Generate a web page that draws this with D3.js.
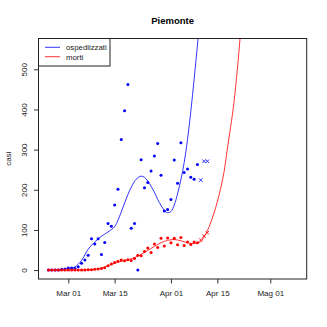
<!DOCTYPE html>
<meta charset="utf-8">
<style>
body {
  margin: 0;
  background: white;
}
svg {
  font-family: "Liberation Sans", Arial, sans-serif;
}
.tick line {
  stroke: #333;
}
</style>
<body>
<svg width="327" height="327"></svg>
<script src="https://d3js.org/d3.v7.min.js"></script>
<script>

// dati giornalieri a partire dal 24 febbraio 2020
var inizio = new Date(2020, 1, 24);

var ospedalizzati = [0, 0, 0, 0, 2, 3, 5, 5, 4, 8, 17, 25, 37, 78, 65, 78, 39, 69, 116, 109,
  162, 201, 325, 397, 462, 104, 116, 0, 275, 205, 218, 247, 284, 315, 236, 147, 151, 176, 274, 216,
  317, 243, 252, 231, 226, 263];
var ospedalizzatiEsclusi = [224, 271, 271];

var morti = [0, 0, 0, 0, 0, 0, 0, 0, 0, 0, 0, 0, 1, 1, 2, 3, 4, 6, 11, 15,
  19, 22, 25, 23, 26, 24, 29, 37, 36, 46, 55, 44, 65, 56, 79, 60, 80, 68, 79, 63,
  81, 61, 70, 64, 70, 68];
var mortiEsclusi = [75, 85, 93];

// curve del modello
var giorniCurvaOsp = [0, 2, 4, 6, 8, 10, 12, 14, 16, 18, 20, 21, 22, 23, 24, 25, 26, 27, 28, 29,
  30, 31, 32, 33, 34, 35, 36, 37, 38, 39, 40, 41, 42, 43, 44, 45, 46];
var curvaOsp = [0, 0, 1, 4, 8, 24, 52, 70, 84, 95, 108, 124, 145, 167, 188, 206, 221, 230, 234, 231,
  222, 209, 194, 176, 161, 149, 143, 146, 162, 190, 225, 268, 325, 395, 475, 560, 650];

var giorniCurvaMorti = [0, 4, 8, 12, 14, 16, 18, 20, 22, 24, 26, 28, 30, 32, 34, 36, 38, 40, 42, 44,
  45, 46, 47, 48, 49, 50, 51, 52, 53, 54, 55, 56, 57, 58, 59];
var curvaMorti = [0, 0, 0, 1, 2, 5, 11, 17, 22, 26, 31, 39, 49, 59, 68, 74, 76, 73, 68, 66,
  67, 71, 82, 98, 118, 142, 170, 203, 243, 300, 355, 415, 495, 590, 690];

var tickDate = [new Date(2020, 2, 1), new Date(2020, 2, 15), new Date(2020, 3, 1), new Date(2020, 3, 15), new Date(2020, 4, 1)];
var tickEtichette = ["Mar 01", "Mar 15", "Apr 01", "Apr 15", "Mag 01"];
var tickY = [0, 100, 200, 300, 400, 500];

var serie = ["ospedlizzati", "morti"];
var colori = ["blue", "red"];

function giorno(d) { return d3.timeDay.offset(inizio, d); }

var svg = d3.select("svg"),
    pLeft = 38.5, pRight = 306.7, pTop = 38.5, pBottom = 279;

var x = d3.scaleTime()
    .domain([new Date(2020, 1, 21), new Date(2020, 4, 12)])
    .range([pLeft, pRight]);
var y = d3.scaleLinear()
    .domain([-22.2, 576.7])
    .range([pBottom, pTop]);

svg.append("clipPath")
    .attr("id", "area")
  .append("rect")
    .attr("x", pLeft).attr("y", pTop)
    .attr("width", pRight - pLeft).attr("height", pBottom - pTop);

// assi
var ax = svg.append("g")
    .attr("transform", "translate(0," + pBottom + ")")
    .call(d3.axisBottom(x).tickValues(tickDate).tickSize(4.5)
      .tickFormat(function(d, i) { return tickEtichette[i]; }));
ax.select(".domain").remove();
ax.selectAll("text")
    .attr("y", 11)
    .attr("fill", "#222")
    .style("font-size", "8px");

var ay = svg.append("g")
    .attr("transform", "translate(" + pLeft + ",0)")
    .call(d3.axisLeft(y).tickValues(tickY).tickSize(4.5));
ay.select(".domain").remove();
ay.selectAll("text")
    .attr("transform", "rotate(-90)")
    .attr("x", 0)
    .attr("y", -11.5)
    .attr("dy", 0)
    .attr("text-anchor", "middle")
    .attr("fill", "#222")
    .style("font-size", "8px");

svg.append("text")
    .attr("transform", "translate(10.5," + (pTop + pBottom) / 2 + ") rotate(-90)")
    .attr("text-anchor", "middle")
    .style("font-size", "8px")
    .attr("fill", "#222")
    .text("casi");

svg.append("text")
    .attr("x", (pLeft + pRight) / 2)
    .attr("y", 23.5)
    .attr("text-anchor", "middle")
    .style("font-size", "9.5px")
    .style("font-weight", "bold")
    .text("Piemonte");

var plot = svg.append("g").attr("clip-path", "url(#area)");

var linea = d3.line()
    .x(function(d) { return x(giorno(d[0])); })
    .y(function(d) { return y(d[1]); })
    .curve(d3.curveCatmullRom);

plot.append("path")
    .datum(giorniCurvaOsp.map(function(g, i) { return [g, curvaOsp[i]]; }))
    .attr("d", linea)
    .attr("fill", "none")
    .attr("stroke", "blue")
    .attr("stroke-width", 0.8);

plot.append("path")
    .datum(giorniCurvaMorti.map(function(g, i) { return [g, curvaMorti[i]]; }))
    .attr("d", linea)
    .attr("fill", "none")
    .attr("stroke", "red")
    .attr("stroke-width", 0.8);

function punti(valori, colore) {
  plot.selectAll(null)
    .data(valori)
    .enter().append("circle")
      .attr("cx", function(d, i) { return x(giorno(i)); })
      .attr("cy", function(d) { return y(d); })
      .attr("r", 1.5)
      .attr("fill", colore);
}

function croci(valori, offset, colore) {
  plot.selectAll(null)
    .data(valori)
    .enter().append("path")
      .attr("transform", function(d, i) { return "translate(" + x(giorno(offset + i)) + "," + y(d) + ")"; })
      .attr("d", "M-1.8,-1.8L1.8,1.8M-1.8,1.8L1.8,-1.8")
      .attr("stroke", colore)
      .attr("stroke-width", 0.8);
}

punti(ospedalizzati, "blue");
croci(ospedalizzatiEsclusi, ospedalizzati.length, "blue");
punti(morti, "red");
croci(mortiEsclusi, morti.length, "red");

// riquadro
svg.append("rect")
    .attr("x", pLeft).attr("y", pTop)
    .attr("width", pRight - pLeft).attr("height", pBottom - pTop)
    .attr("fill", "none")
    .attr("stroke", "#222")
    .attr("stroke-width", 1);

// legenda
var leg = svg.append("g");
leg.append("rect")
    .attr("x", pLeft).attr("y", pTop)
    .attr("width", 71.5).attr("height", 27.5)
    .attr("fill", "white")
    .attr("stroke", "#222")
    .attr("stroke-width", 1);
serie.forEach(function(s, i) {
  var yy = 47.3 + i * 9.4;
  leg.append("line")
      .attr("x1", 45).attr("x2", 60)
      .attr("y1", yy).attr("y2", yy)
      .attr("stroke", colori[i])
      .attr("stroke-width", 0.8);
  leg.append("text")
      .attr("x", 66).attr("y", yy + 3)
      .style("font-size", "7.8px")
      .attr("fill", "#222")
      .text(s);
});

</script>
</body>
